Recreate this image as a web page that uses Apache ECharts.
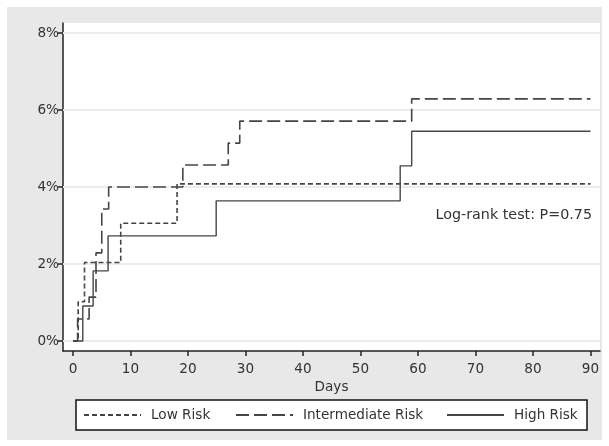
<!DOCTYPE html>
<html>
<head>
<meta charset="utf-8">
<script src="https://cdn.jsdelivr.net/npm/echarts@6/dist/echarts.min.js"></script>
<style>html,body{margin:0;padding:0;background:#fff}#c{width:609px;height:446px}</style>
</head>
<body>
<div id="c"></div>
<script>
var seriesNames = ['Low Risk', 'Intermediate Risk', 'High Risk'];
var lowDays = [0, 0.9, 2.0, 8.3, 18.1, 90];
var lowRisk = [0, 1.02, 2.04, 3.06, 4.08, 4.08];
var interDays = [0, 0.8, 2.8, 4.0, 5.0, 6.2, 19.1, 27.0, 29.0, 58.9, 90];
var interRisk = [0, 0.57, 1.14, 2.29, 3.43, 4.0, 4.57, 5.14, 5.71, 6.29, 6.29];
var highDays = [0, 1.7, 3.5, 6.1, 24.9, 56.9, 58.9, 90];
var highRisk = [0, 0.91, 1.82, 2.73, 3.64, 4.55, 5.45, 5.45];
var xTicks = [0, 10, 20, 30, 40, 50, 60, 70, 80, 90];
var yTicks = [0, 2, 4, 6, 8];
var annotation = 'Log-rank test: P=0.75';

function pairs(xs, ys) { return xs.map(function (x, i) { return [x, ys[i]]; }); }

var font = 'DejaVu Sans';
var lineColor = '#454545';
var chart = echarts.init(document.getElementById('c'));

function legendAt(name, left) {
  return {
    data: [name], left: left, top: 408, itemWidth: 57, itemHeight: 14,
    itemStyle: { opacity: 0 },
    textStyle: { fontFamily: font, fontSize: 13.6, color: '#333', padding: [0, 0, 0, 5] },
    padding: 0
  };
}

chart.setOption({
  animation: false,
  backgroundColor: '#fff',
  graphic: [
    { type: 'rect', z: -10, shape: { x: 7, y: 7, width: 595, height: 433 }, style: { fill: '#e8e8e8' } },
    { type: 'rect', z: -5, shape: { x: 76, y: 400, width: 511, height: 30 }, style: { fill: '#fff', stroke: '#111', lineWidth: 1.5 } },
    { type: 'text', right: 17, top: 208, style: { text: annotation, font: '14.3px ' + font, fill: '#333' } }
  ],
  grid: { left: 63, top: 23, width: 537, height: 328, show: true, backgroundColor: '#fff', borderWidth: 0 },
  legend: [legendAt(seriesNames[0], 83), legendAt(seriesNames[1], 235), legendAt(seriesNames[2], 446)],
  xAxis: {
    type: 'value', min: -1.74, max: 91.65,
    name: 'Days', nameLocation: 'middle', nameGap: 21,
    nameTextStyle: { fontFamily: font, fontSize: 13.6, color: '#333' },
    axisLine: { onZero: false, lineStyle: { color: '#222', width: 1.5 } },
    axisTick: { customValues: xTicks, length: 5, lineStyle: { color: '#222', width: 1.5 } },
    axisLabel: { customValues: xTicks, fontFamily: font, fontSize: 13.6, color: '#333', margin: 11 },
    splitLine: { show: false }
  },
  yAxis: {
    type: 'value', min: -0.26, max: 8.26,
    axisLine: { show: true, onZero: false, lineStyle: { color: '#222', width: 1.5 } },
    axisTick: { show: true, customValues: yTicks, length: 5, lineStyle: { color: '#222', width: 1.5 } },
    axisLabel: { customValues: yTicks, formatter: function (v) { return v + '%'; }, fontFamily: font, fontSize: 13.6, color: '#333', margin: 4 },
    splitLine: { show: false }
  },
  series: [
    {
      type: 'line', name: '_grid', data: [], z: 1, silent: true,
      markLine: {
        silent: true, symbol: 'none', z: 1, label: { show: false },
        lineStyle: { color: '#ececec', width: 2, type: 'solid' },
        data: yTicks.map(function (v) { return { yAxis: v }; })
      }
    },
    {
      type: 'line', name: seriesNames[0], step: 'end', symbol: 'none', z: 3,
      data: pairs(lowDays, lowRisk),
      lineStyle: { color: lineColor, width: 1.6, type: [5, 3] },
      itemStyle: { color: lineColor }
    },
    {
      type: 'line', name: seriesNames[1], step: 'end', symbol: 'none', z: 3,
      data: pairs(interDays, interRisk),
      lineStyle: { color: lineColor, width: 1.6, type: [13, 5] },
      itemStyle: { color: lineColor }
    },
    {
      type: 'line', name: seriesNames[2], step: 'end', symbol: 'none', z: 3,
      data: pairs(highDays, highRisk),
      lineStyle: { color: lineColor, width: 1.4, type: 'solid' },
      itemStyle: { color: lineColor }
    }
  ]
});
</script>
</body>
</html>
